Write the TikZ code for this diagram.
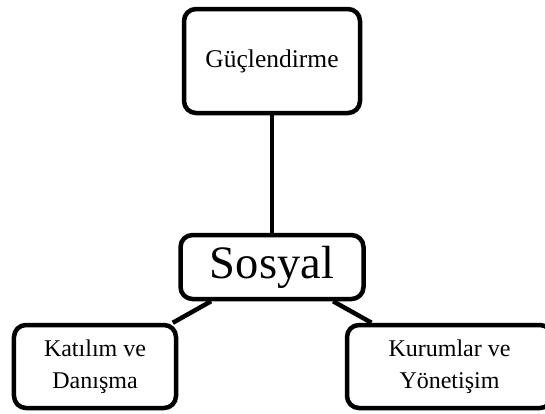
\documentclass[tikz,border=0pt]{standalone}
\usepackage{fontspec}
\setmainfont{Liberation Serif}
\begin{document}
\begin{tikzpicture}[x=1bp,y=-1bp,
  box/.style={draw=black, line width=4.5bp, rounded corners=12bp, fill=white,
    inner sep=0pt, align=center},
  link/.style={draw=black, line width=4.5bp}]
  \clip (0,0) rectangle (545,413);
  \fill[white] (0,0) rectangle (545,413);

  % topic boxes
  \node[box, minimum width=176bp, minimum height=104bp,
        font=\fontsize{25.5bp}{30bp}\selectfont] (guc) at (272,61) {Güçlendirme};
  \node[box, minimum width=183bp, minimum height=64bp,
        font=\fontsize{46.5bp}{52bp}\selectfont] (sos) at (272,267) {Sosyal};
  \node[box, minimum width=162bp, minimum height=83bp,
        font=\fontsize{24bp}{32bp}\selectfont] (kat) at (95,366.5) {Katılım ve\\Danışma};
  \node[box, minimum width=205bp, minimum height=83bp,
        font=\fontsize{24bp}{32bp}\selectfont] (kur) at (449.5,366.5) {Kurumlar ve\\Yönetişim};

  % connectors
  \draw[link] (guc) -- (sos);
  \draw[link] (sos) -- (kat);
  \draw[link] (sos) -- (kur);
\end{tikzpicture}
\end{document}
